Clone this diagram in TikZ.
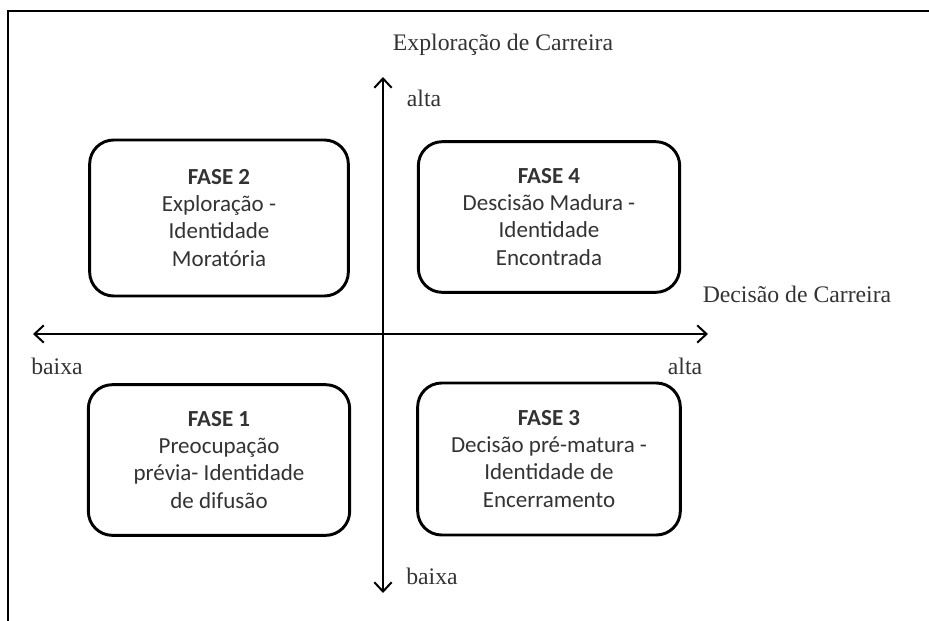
\documentclass[tikz,border=0pt]{standalone}
\usepackage{fontspec}
\setmainfont{Liberation Serif}
\newfontfamily\boxfont{Carlito}
\usetikzlibrary{arrows.meta}
\definecolor{txtgray}{rgb}{0.2,0.2,0.2}
\begin{document}
\begin{tikzpicture}[x=0.75pt,y=-0.75pt,
  fase/.style={draw,line width=2.2pt,rounded corners=18pt,align=center,
    text=txtgray,font=\boxfont\fontsize{17.25}{20.3}\selectfont},
  axislabel/.style={text=txtgray,font=\fontsize{17.8}{20}\selectfont,inner sep=0pt},
  axis/.style={line width=1.5pt,{Straight Barb[length=7pt,width=13pt]}-{Straight Barb[length=7pt,width=13pt]}}]

\useasboundingbox (0,0) rectangle (929,621);
\clip (0,0) rectangle (929,621);
\draw[line width=1.7pt] (8,11) rectangle (960,660);

% axes
\coordinate (top) at (383,77);
\coordinate (bottom) at (383,593);
\coordinate (left) at (33,334);
\coordinate (right) at (708,334);
\draw[axis] (bottom) -- (top);
\draw[axis] (left) -- (right);

\node[axislabel] (explo) at (503,45) {Exploração de Carreira};
\node[axislabel] (decis) at (797,294) {Decisão de Carreira};
\node[axislabel] (altav) at (424,98) {alta};
\node[axislabel] (baixav) at (432,576) {baixa};
\node[axislabel] (baixah) at (57,366) {baixa};
\node[axislabel] (altah) at (685,366) {alta};

% phases
\node[fase,minimum width=194pt,minimum height=117pt] (f2) at (219,218)
  {\textbf{FASE 2}\\Exploração -\\Identidade\\Moratória};
\node[fase,minimum width=196pt,minimum height=113pt] (f4) at (549,217)
  {\textbf{FASE 4}\\Descisão Madura -\\Identidade\\Encontrada};
\node[fase,minimum width=196pt,minimum height=113pt] (f1) at (219,460)
  {\textbf{FASE 1}\\Preocupação\\prévia- Identidade\\de difusão};
\node[fase,minimum width=197pt,minimum height=114pt] (f3) at (549,459)
  {\textbf{FASE 3}\\Decisão pré-matura -\\Identidade de\\Encerramento};
\end{tikzpicture}
\end{document}
